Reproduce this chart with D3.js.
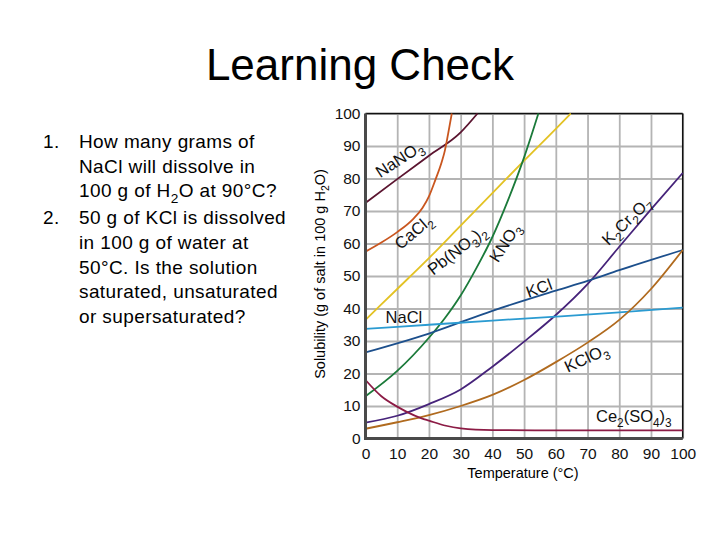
<!DOCTYPE html>
<html>
<head>
<meta charset="utf-8">
<script src="https://cdn.jsdelivr.net/npm/d3@7"></script>
<style>
  body { margin: 0; background: #fff; }
  svg { display: block; font-family: "Liberation Sans", Arial, sans-serif; }
</style>
</head>
<body>
<div id="chart"></div>
<script>
// solubility curves, [temperature °C, g per 100 g water]
var naNO3 = [[0,72.5],[10,79.8],[20,87],[30,94.2],[35.3,100]];
var caCl2 = [[0,57.5],[5,60.3],[10,63.5],[15,67.5],[18,71],[20,74.5],[22,79.5],[24,85],[25,88.5],[26,93.5],[27.2,100]];
var pbNO32 = [[0,36.5],[10,46],[20,55.5],[30,65.5],[40,75.5],[50,85.5],[60,95.3],[64.7,100]];
var kNO3 = [[0,13],[10,20.8],[20,31],[25,37],[30,44],[35,52.5],[40,62],[45,73.5],[50,86.5],[54.5,100]];
var k2Cr2O7 = [[0,4.9],[10,7],[20,10.6],[30,15.1],[40,22.1],[50,29.8],[60,38],[70,47.5],[80,59],[90,70.5],[100,81.7]];
var kCl = [[0,26.5],[20,32.3],[40,39.3],[60,45.5],[70,48.5],[80,51.8],[100,58]];
var naCl = [[0,33.7],[20,35],[40,36.3],[60,37.5],[80,38.8],[100,40.3]];
var kClO3 = [[0,3],[10,5],[20,7.2],[30,10],[40,13.4],[50,18],[60,23.5],[70,29.5],[80,36.5],[90,46],[100,58]];
var ce2SO43 = [[0,18],[5,13],[10,9.8],[13,8.2],[17.7,6.2],[20,5.5],[25,4],[30,3.1],[40,2.6],[60,2.5],[100,2.5]];

var xTicks = [0,10,20,30,40,50,60,70,80,90,100];
var yTicks = [0,10,20,30,40,50,60,70,80,90,100];

var questions = [
    ["1.", "How many grams of", "NaCl will dissolve in", "100 g of H_2O at 90°C?"],
    ["2.", "50 g of KCl is dissolved", "in 100 g of water at", "50°C.  Is the solution", "saturated, unsaturated", "or supersaturated?"]
];

var series = [
    {data: naNO3,   color: "#5b1530", label: "NaNO_3",      at: [10.6, 86],   rot: -33},
    {data: caCl2,   color: "#c9561f", label: "CaCl_2",      at: [15.1, 63.6], rot: -40},
    {data: pbNO32,  color: "#e3c224", label: "Pb(NO_3)_2",  at: [28.8, 58],   rot: -38},
    {data: kNO3,    color: "#1b7a3a", label: "KNO_3",       at: [43.9, 60.3], rot: -57},
    {data: k2Cr2O7, color: "#46237a", label: "K_2Cr_2O_7",  at: [82.3, 67],   rot: -44},
    {data: kCl,     color: "#1c4f8c", label: "KCl",         at: [54.7, 46.3], rot: -20},
    {data: naCl,    color: "#2b9bd1", label: "NaCl",        at: [12.1, 37.2], rot: 0},
    {data: kClO3,   color: "#b06a1e", label: "KClO_3",      at: [69.6, 24.8], rot: -25},
    {data: ce2SO43, color: "#8c1b45", label: "Ce_2(SO_4)_3", at: [84.6, 6.9], rot: 0}
];

var svg = d3.select("#chart").append("svg")
    .attr("width", 720)
    .attr("height", 540);

// writes "H_2O" style strings with subscripts
function richText(sel, str, size) {
    var parts = str.split(/(_\w)/);
    var shift = 0;
    parts.forEach(function(p) {
        if (p === "") return;
        if (p[0] === "_") {
            sel.append("tspan").attr("dy", size * 0.3).style("font-size", (size * 0.72) + "px").text(p[1]);
            shift = size * 0.3;
        } else {
            var t = sel.append("tspan").text(p);
            if (shift) { t.attr("dy", -shift); shift = 0; }
        }
    });
}

svg.append("text")
    .attr("x", 360)
    .attr("y", 80)
    .attr("text-anchor", "middle")
    .style("font-size", "44px")
    .text("Learning Check");

var lineY = 148;
questions.forEach(function(q, qi) {
    if (qi > 0) lineY += 2;
    svg.append("text")
        .attr("x", 43).attr("y", lineY)
        .style("font-size", "19px").style("letter-spacing", "0.4px")
        .text(q[0]);
    q.slice(1).forEach(function(line) {
        var t = svg.append("text")
            .attr("x", 79).attr("y", lineY)
            .style("font-size", "19px").style("letter-spacing", "0.4px");
        richText(t, line, 19);
        lineY += 24.7;
    });
});

var x = d3.scaleLinear().domain([0, 100]).range([365.5, 682.7]);
var y = d3.scaleLinear().domain([0, 100]).range([438.5, 113.5]);
var plotH = y(0) - y(100);
var plotW = x(100) - x(0);

// grid
svg.append("g")
    .attr("class", "grid")
    .attr("transform", "translate(0," + y(0) + ")")
    .call(d3.axisBottom(x).tickValues(xTicks).tickSize(-plotH).tickFormat(""))
    .call(g => g.select(".domain").remove());
svg.append("g")
    .attr("class", "grid")
    .attr("transform", "translate(" + x(0) + ",0)")
    .call(d3.axisLeft(y).tickValues(yTicks).tickSize(-plotW).tickFormat(""))
    .call(g => g.select(".domain").remove());
svg.selectAll(".grid line").attr("stroke", "#b4b4b4").attr("stroke-width", 1.8);

// frame
svg.append("line").attr("x1", x(0)).attr("x2", x(100)).attr("y1", y(100)).attr("y2", y(100))
    .attr("stroke", "#111").attr("stroke-width", 1.5);
svg.append("line").attr("x1", x(100)).attr("x2", x(100)).attr("y1", y(100)).attr("y2", y(0))
    .attr("stroke", "#111").attr("stroke-width", 1.5);

var line = d3.line()
    .x(d => x(d[0]))
    .y(d => y(d[1]))
    .curve(d3.curveMonotoneX);

svg.selectAll(".curve")
    .data(series)
    .enter()
    .append("path")
    .attr("class", "curve")
    .attr("fill", "none")
    .attr("stroke", d => d.color)
    .attr("stroke-width", 1.8)
    .attr("d", d => line(d.data));

svg.append("line").attr("x1", x(0)).attr("x2", x(0)).attr("y1", y(100)).attr("y2", y(0) + 1.5)
    .attr("stroke", "#4a4a4a").attr("stroke-width", 3);
svg.append("line").attr("x1", x(0) - 1.5).attr("x2", x(100)).attr("y1", y(0)).attr("y2", y(0))
    .attr("stroke", "#4a4a4a").attr("stroke-width", 3);

// axes labels
svg.append("g")
    .attr("transform", "translate(0," + y(0) + ")")
    .call(d3.axisBottom(x).tickValues(xTicks).tickSize(0).tickPadding(9))
    .call(g => g.select(".domain").remove())
    .selectAll("text")
    .style("font-family", "'Liberation Sans', Arial, sans-serif")
    .style("font-size", "15.5px")
    .attr("fill", "#111");

svg.append("g")
    .attr("transform", "translate(" + x(0) + ",0)")
    .call(d3.axisLeft(y).tickValues(yTicks).tickSize(0).tickPadding(5))
    .call(g => g.select(".domain").remove())
    .selectAll("text")
    .style("font-family", "'Liberation Sans', Arial, sans-serif")
    .style("font-size", "15.5px")
    .attr("fill", "#111");

svg.append("text")
    .attr("x", 523)
    .attr("y", 478)
    .attr("text-anchor", "middle")
    .style("font-size", "14.5px")
    .text("Temperature (°C)");

var yTitle = svg.append("text")
    .attr("transform", "translate(325,274) rotate(-90)")
    .attr("text-anchor", "middle")
    .style("font-size", "14.5px");
richText(yTitle, "Solubility (g of salt in 100 g H_2O)", 14.5);

// curve labels
series.forEach(function(s) {
    var t = svg.append("text")
        .attr("transform", "translate(" + x(s.at[0]) + "," + y(s.at[1]) + ") rotate(" + s.rot + ")")
        .attr("text-anchor", "middle")
        .style("font-size", "16.5px")
        .attr("fill", "#111");
    var inner = t.append("tspan").attr("dy", "0.35em");
    richText(inner, s.label, 16.5);
});
</script>
</body>
</html>
